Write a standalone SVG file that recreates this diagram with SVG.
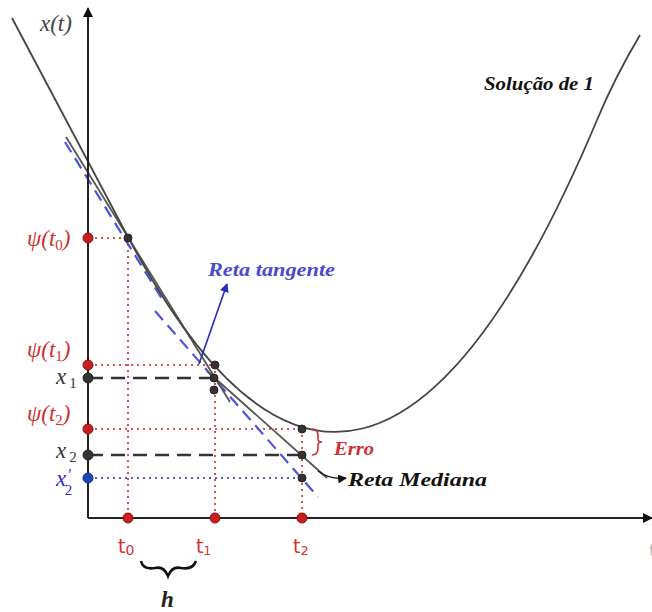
<svg xmlns="http://www.w3.org/2000/svg" width="652" height="612" viewBox="0 0 652 612">
<style>
.ax{stroke:#222;stroke-width:2;fill:none}
.curve{stroke:#444;stroke-width:1.8;fill:none}
.ln{stroke:#555;stroke-width:1.8;fill:none}
.bdash{stroke:#4a55d8;stroke-width:2.2;stroke-dasharray:12 7;fill:none}
.kdash{stroke:#333;stroke-width:2.4;stroke-dasharray:14 8;fill:none}
.rdot{stroke:#e05050;stroke-width:2;stroke-dasharray:2 4;fill:none}
.bdot{stroke:#5a5ae0;stroke-width:2;stroke-dasharray:2 4;fill:none}
.pr{fill:#c81e1e;stroke:#8a1010;stroke-width:1}
.pk{fill:#333;stroke:#222;stroke-width:1}
.pb{fill:#2244bb;stroke:#1a2a88;stroke-width:1}
.math{font-family:"Liberation Serif","DejaVu Serif",serif;font-style:italic;font-size:23px}
.sub{font-style:normal;font-size:15px}
.tl{font-family:"DejaVu Sans","Liberation Sans",sans-serif;font-size:19px;fill:#d03030}
.lab{font-family:"Liberation Serif","DejaVu Serif",serif;font-style:italic;font-weight:bold;font-size:19px}
</style>
<defs>
<marker id="ah" markerWidth="10" markerHeight="10" refX="9" refY="5" orient="auto" markerUnits="userSpaceOnUse">
<path d="M0,0 L10,5 L0,10 Z" fill="#111"/>
</marker>
<marker id="ahb" markerWidth="9" markerHeight="9" refX="8" refY="4.5" orient="auto" markerUnits="userSpaceOnUse">
<path d="M0,0 L9,4.5 L0,9 Z" fill="#2a2ab8"/>
</marker>
<marker id="ahk" markerWidth="9" markerHeight="9" refX="8" refY="4.5" orient="auto" markerUnits="userSpaceOnUse">
<path d="M0,0 L9,4.5 L0,9 Z" fill="#111"/>
</marker>
</defs>

<g id="connectors">
<path class="rdot" d="M89,238 H128 M89,365 H215 M89,429 H302"/>
<path class="rdot" d="M128,238 V518 M215,365 V518 M302,429 V518"/>
<path class="bdot" d="M89,478 H302"/>
<path class="kdash" d="M89,378 H215 M89,455 H302"/>
<path class="bdash" d="M65,142 L162,299"/>
<path class="bdash" d="M155,311 L318,497"/>
<path class="ln" d="M66,137 L230,402"/>
<path class="ln" d="M207,371 L327,478"/>
<path class="curve" d="M12,18 L128,237 Q362.6,678.5 597,120 Q615,77 640,35"/>
<path d="M199,364 L227,284" stroke="#2a2ab8" stroke-width="1.6" fill="none" marker-end="url(#ahb)"/>
<path d="M318,471 Q330,480 346,478" stroke="#111" stroke-width="1.4" fill="none" marker-end="url(#ahk)"/>
<path class="ax" d="M88,518 V8" marker-end="url(#ah)"/>
<path class="ax" d="M88,518 H652" marker-end="url(#ah)"/>
<path d="M312,429 Q318,429 318,436 L318,439 Q318,442 322,442 Q318,442 318,445 L318,448 Q318,455 312,455" stroke="#d03030" stroke-width="1.6" fill="none"/>
<path d="M141,561 Q143,570 155,568 Q164,566 168,576 Q172,566 181,568 Q193,570 196,561" stroke="#111" stroke-width="2.6" fill="none"/>
</g>

<g id="points">
<circle class="pr" cx="88" cy="238" r="5"/>
<circle class="pr" cx="88" cy="365" r="5"/>
<circle class="pk" cx="88" cy="378" r="5"/>
<circle class="pr" cx="88" cy="429" r="5"/>
<circle class="pk" cx="88" cy="455" r="5"/>
<circle class="pb" cx="88" cy="478" r="5"/>
<circle class="pr" cx="128" cy="518" r="5"/>
<circle class="pr" cx="215" cy="518" r="5"/>
<circle class="pr" cx="302" cy="518" r="5"/>
<circle class="pk" cx="128" cy="238" r="4"/>
<circle class="pk" cx="215" cy="365" r="4"/>
<circle class="pk" cx="214" cy="378" r="4"/>
<circle class="pk" cx="214" cy="390" r="4"/>
<circle class="pk" cx="302" cy="429" r="4"/>
<circle class="pk" cx="302" cy="455" r="4"/>
<circle class="pk" cx="302" cy="478" r="4"/>
</g>

<g id="labels">
<text class="math" x="40" y="31" fill="#444">x(t)</text>
<text class="math" x="27" y="246" fill="#d03030">ψ(t<tspan class="sub" dy="4">0</tspan><tspan dy="-4">)</tspan></text>
<text class="math" x="27" y="357" fill="#d03030">ψ(t<tspan class="sub" dy="4">1</tspan><tspan dy="-4">)</tspan></text>
<text class="math" x="56" y="384" fill="#333">x<tspan class="sub" dy="4" dx="3">1</tspan></text>
<text class="math" x="27" y="421" fill="#d03030">ψ(t<tspan class="sub" dy="4">2</tspan><tspan dy="-4">)</tspan></text>
<text class="math" x="56" y="458" fill="#333">x<tspan class="sub" dy="4" dx="3">2</tspan></text>
<text class="math" x="56" y="486" fill="#2a2ad0">x<tspan font-size="16" dy="-6" dx="1">′</tspan><tspan class="sub" dx="-6" dy="15">2</tspan></text>
<text class="tl" x="118" y="553">t<tspan font-size="14" dy="2">0</tspan></text>
<text class="tl" x="196" y="553">t<tspan font-size="12" dy="2">1</tspan></text>
<text class="tl" x="293" y="553">t<tspan font-size="13" dy="2">2</tspan></text>
<text x="649" y="556" font-family="DejaVu Sans,sans-serif" font-size="16" fill="#bbb">t</text>
<text class="math" x="161" y="607" font-weight="bold" fill="#222">h</text>
<text class="lab" x="208" y="276" fill="#4a4ad0" textLength="127" lengthAdjust="spacingAndGlyphs">Reta tangente</text>
<text class="lab" x="334" y="455" fill="#d03030" font-weight="normal" font-size="19" textLength="40" lengthAdjust="spacingAndGlyphs">Erro</text>
<text class="lab" x="348" y="486" fill="#111" textLength="139" lengthAdjust="spacingAndGlyphs">Reta Mediana</text>
<text class="lab" x="484" y="90" fill="#111" font-size="16" textLength="110" lengthAdjust="spacingAndGlyphs">Solução de 1</text>
</g>
</svg>
